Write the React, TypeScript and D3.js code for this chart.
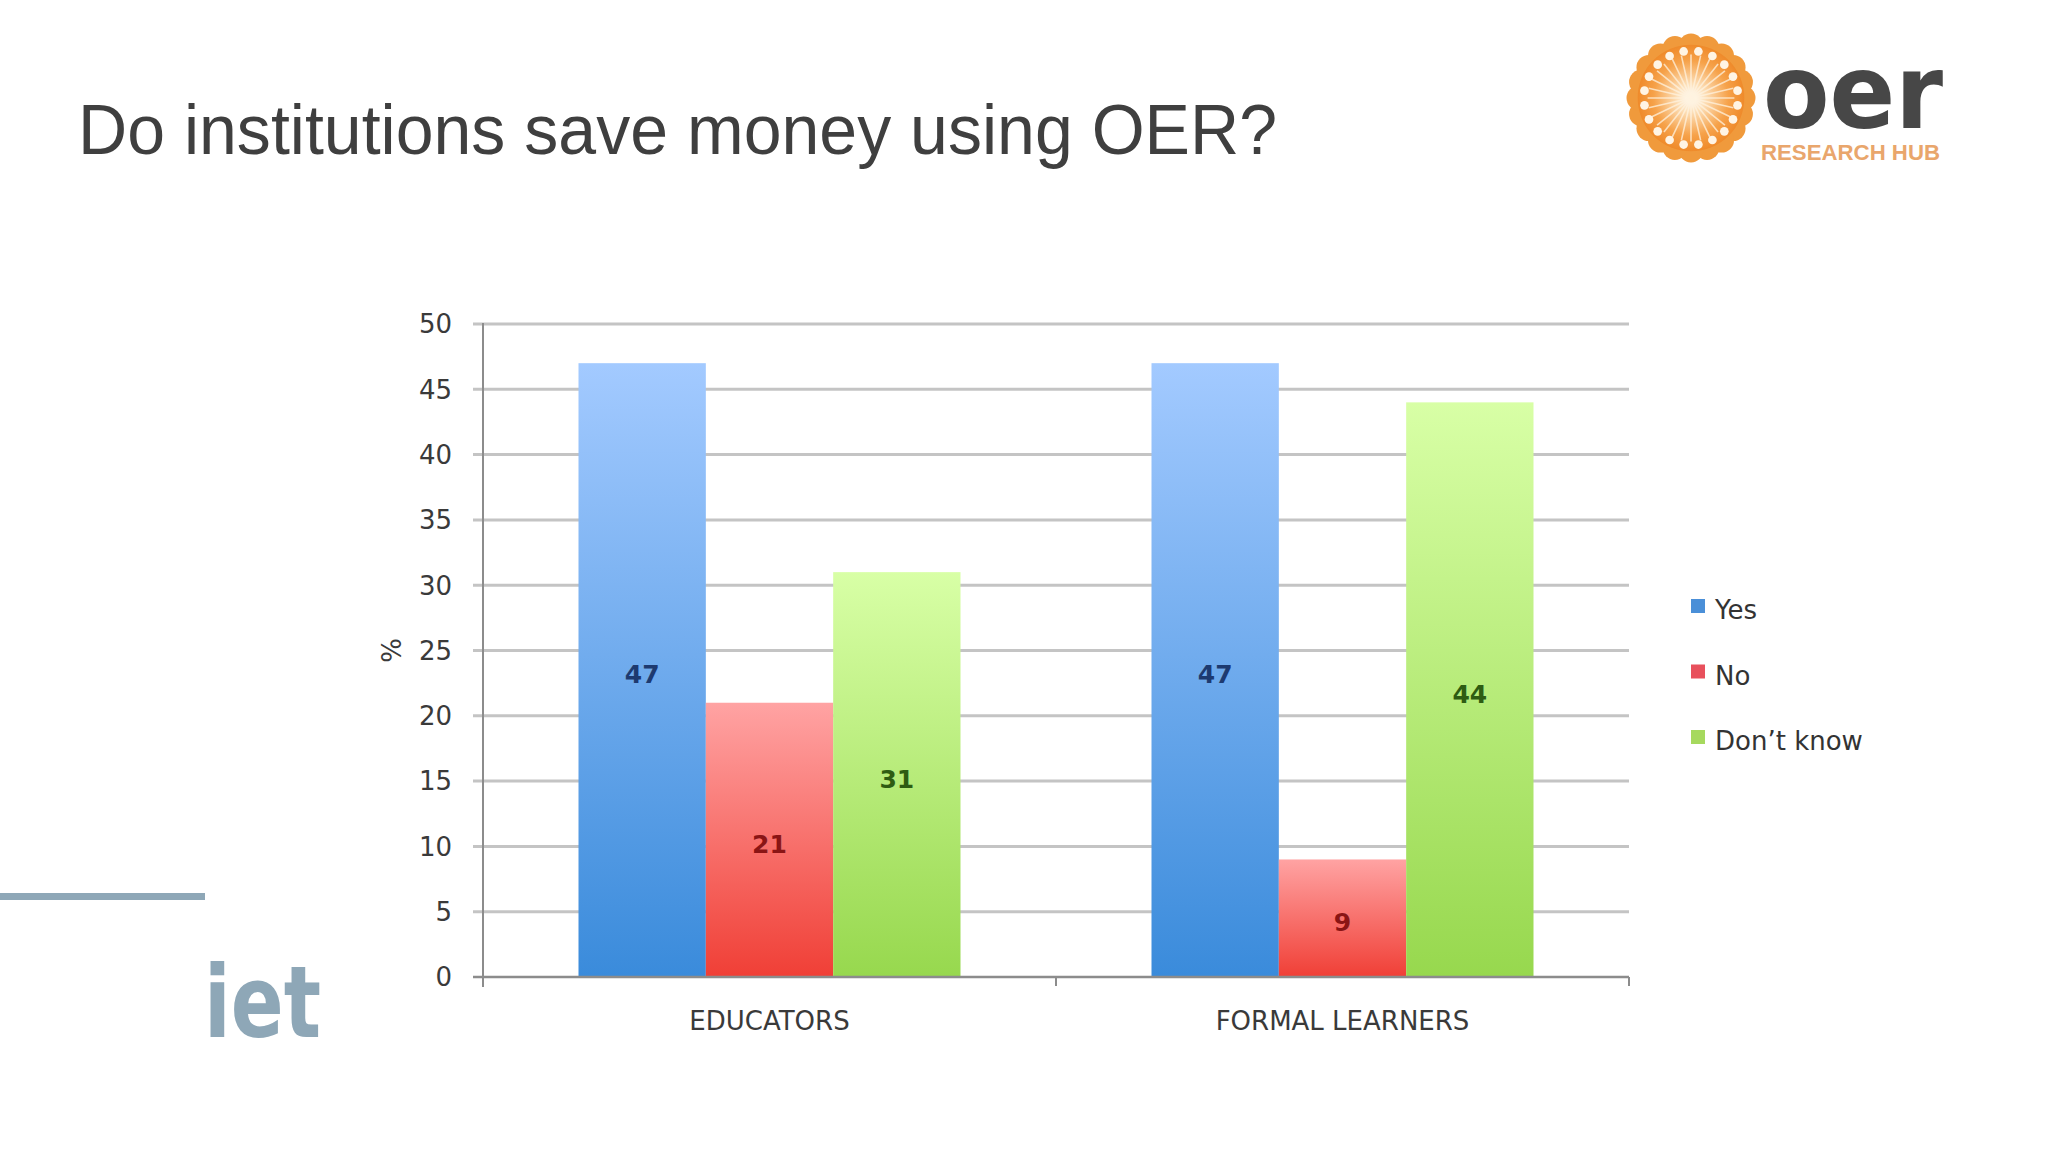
import React from "react";
import * as d3 from "d3";

const TITLE = "Do institutions save money using OER?";
const categories = ["EDUCATORS", "FORMAL LEARNERS"];
const seriesNames = ["Yes", "No", "Don’t know"];
const yesValues = [47, 47];
const noValues = [21, 9];
const dontKnowValues = [31, 44];
const yTicks = [0, 5, 10, 15, 20, 25, 30, 35, 40, 45, 50];
const yLabel = "%";

const seriesStyle = [
  { top: "#a3caff", bottom: "#3a8bdb", label: "#1d3a70", legend: "#4a8fd8" },
  { top: "#ffa3a3", bottom: "#f03f36", label: "#8a1515", legend: "#e8505c" },
  { top: "#d8ffa6", bottom: "#97d84e", label: "#2e5c12", legend: "#a6d95e" },
];

const FONT = "'DejaVu Sans', sans-serif";

function Sunflower({ cx, cy, r }: { cx: number; cy: number; r: number }) {
  const n = 20;
  const petals = d3.range(n).map((i) => (i / n) * Math.PI * 2);
  const rays = d3.range(28).map((i) => (i / 28) * Math.PI * 2);
  return (
    <g>
      <defs>
        <radialGradient id="sunGrad" cx="50%" cy="50%" r="50%">
          <stop offset="0%" stopColor="#ffffff" />
          <stop offset="25%" stopColor="#fde2bd" />
          <stop offset="70%" stopColor="#f6a24a" />
          <stop offset="100%" stopColor="#ef8a2a" />
        </radialGradient>
      </defs>
      {petals.map((a, i) => (
        <circle key={"p" + i} cx={cx + Math.cos(a) * r * 0.84} cy={cy + Math.sin(a) * r * 0.84} r={r * 0.2} fill="#f09a3c" />
      ))}
      <circle cx={cx} cy={cy} r={r * 0.86} fill="url(#sunGrad)" />
      {rays.map((a, i) => (
        <line key={"r" + i} x1={cx} y1={cy} x2={cx + Math.cos(a) * r * 0.7} y2={cy + Math.sin(a) * r * 0.7} stroke="#fff3e0" strokeWidth={1.6} opacity={0.75} />
      ))}
      {petals.map((a, i) => (
        <circle key={"d" + i} cx={cx + Math.cos(a + Math.PI / n) * r * 0.76} cy={cy + Math.sin(a + Math.PI / n) * r * 0.76} r={r * 0.07} fill="#fff4e4" />
      ))}
    </g>
  );
}

export default function App() {
  const W = 2048;
  const H = 1152;
  const left = 483;
  const right = 1629;
  const y = d3.scaleLinear().domain([0, 50]).range([977, 324]);
  const x0 = d3.scaleBand<string>().domain(categories).range([left, right]).paddingInner(0).paddingOuter(0);
  const x1 = d3.scaleBand<string>().domain(seriesNames).range([0, x0.bandwidth()]).paddingInner(0).paddingOuter(0.75);
  const seriesValues = [yesValues, noValues, dontKnowValues];

  return (
    <svg width={W} height={H} style={{ position: "absolute", left: 0, top: 0, background: "#fff" }} fontFamily={FONT}>
      <defs>
        {seriesStyle.map((s, i) => (
          <linearGradient key={i} id={"barGrad" + i} x1="0" y1="0" x2="0" y2="1">
            <stop offset="0%" stopColor={s.top} />
            <stop offset="100%" stopColor={s.bottom} />
          </linearGradient>
        ))}
      </defs>
      <rect x={0} y={0} width={W} height={H} fill="#ffffff" />

      {/* Title */}
      <text x={78} y={154} fontFamily="'Liberation Sans', Arial, sans-serif" fontSize={71} fill="#3f3f3f" textLength={1199} lengthAdjust="spacingAndGlyphs">
        {TITLE}
      </text>

      {/* OER logo */}
      <Sunflower cx={1691} cy={98} r={62} />
      <text x={1763} y={128} fontFamily="'DejaVu Sans', sans-serif" fontWeight="bold" fontSize={104} fill="#474747" textLength={180} lengthAdjust="spacingAndGlyphs">
        oer
      </text>
      <text x={1761} y={160} fontFamily="'Liberation Sans', Arial, sans-serif" fontWeight="bold" fontSize={22} fill="#e9a66c" textLength={179} lengthAdjust="spacingAndGlyphs">
        RESEARCH HUB
      </text>

      {/* iet logo */}
      <rect x={0} y={893} width={205} height={7} fill="#8ea7b7" />
      <text x={204} y={1037} fontFamily="'DejaVu Sans', sans-serif" fontWeight="bold" fontSize={100} fill="#8ea7b7" textLength={117} lengthAdjust="spacingAndGlyphs">
        iet
      </text>

      {/* Gridlines */}
      {yTicks.filter((t) => t > 0).map((t) => (
        <line key={"g" + t} x1={left - 10} x2={right} y1={y(t)} y2={y(t)} stroke="#c4c4c4" strokeWidth={3} />
      ))}

      {/* Bars */}
      {categories.map((c, ci) => (
        <g key={c} transform={`translate(${x0(c)},0)`}>
          {seriesNames.map((s, si) => {
            const v = seriesValues[si][ci];
            const bx = x1(s)!;
            const bw = x1.bandwidth();
            return (
              <g key={s}>
                <rect x={bx} y={y(v)} width={bw} height={y(0) - y(v)} fill={`url(#barGrad${si})`} />
                <text x={bx + bw / 2} y={(y(v) + y(0)) / 2 + 4} dy="0.36em" textAnchor="middle" fontSize={25} fontWeight="bold" fill={seriesStyle[si].label}>
                  {v}
                </text>
              </g>
            );
          })}
        </g>
      ))}

      {/* Axes */}
      <line x1={left - 10} x2={right} y1={y(0)} y2={y(0)} stroke="#8c8c8c" strokeWidth={2.5} />
      <line x1={left} x2={left} y1={y(50) - 1} y2={y(0) + 10} stroke="#8c8c8c" strokeWidth={2} />
      {[x0(categories[1])!, right].map((xx, i) => (
        <line key={"xt" + i} x1={xx} x2={xx} y1={y(0)} y2={y(0) + 9} stroke="#8c8c8c" strokeWidth={2} />
      ))}
      {yTicks.map((t) => (
        <text key={"yl" + t} x={452} y={y(t)} dy="0.36em" textAnchor="end" fontSize={26} fill="#3a3a3a">
          {t}
        </text>
      ))}
      <text transform={`translate(392,${y(25)}) rotate(-90)`} textAnchor="middle" dy="0.36em" fontSize={26} fill="#3a3a3a">
        {yLabel}
      </text>
      {categories.map((c) => (
        <text key={"xl" + c} x={x0(c)! + x0.bandwidth() / 2} y={1030} textAnchor="middle" fontSize={26} fill="#3a3a3a">
          {c}
        </text>
      ))}

      {/* Legend */}
      {seriesNames.map((s, i) => (
        <g key={"lg" + s} transform={`translate(1691,${606 + i * 65.5})`}>
          <rect x={0} y={-7} width={14} height={14} fill={seriesStyle[i].legend} />
          <text x={24} y={13} fontSize={26} fill="#333">
            {s}
          </text>
        </g>
      ))}
    </svg>
  );
}
